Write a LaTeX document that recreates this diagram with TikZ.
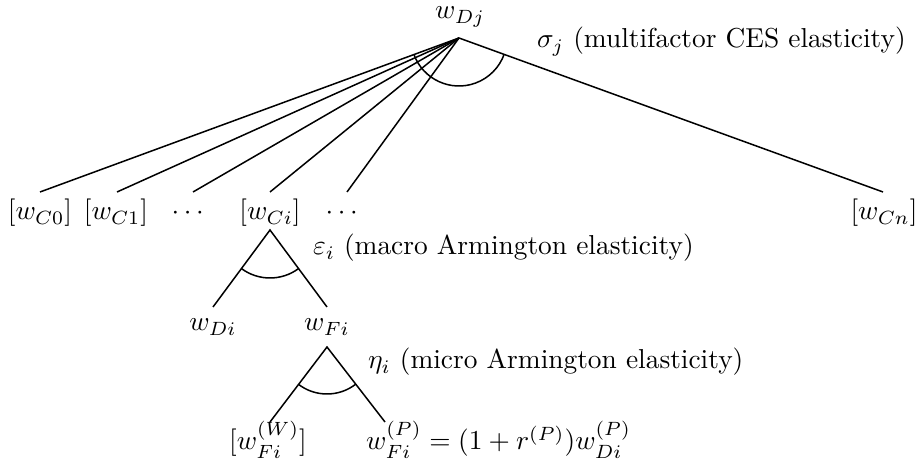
\documentclass[tikz,border=0pt]{standalone}
\usepackage{amsmath}
\begin{document}
\begin{tikzpicture}[x=0.365pt,y=-0.365pt,
  lbl/.style={inner sep=0pt,outer sep=0pt},
  edge/.style={line width=0.55pt},
  angarc/.style={line width=0.55pt}]
\useasboundingbox (0,0) rectangle (917,465);
% top level
\node[lbl,anchor=base] (wDj) at (460,19) {$w_{Dj}$};
\coordinate (apex) at (459,38);
\node[lbl,anchor=base west] (sig) at (537,48) {$\sigma_j$ (multifactor CES elasticity)};
\foreach \n/\x/\t in {C0/40/{$[w_{C0}]$},C1/116/{$[w_{C1}]$},d1/190/{$\cdots$},Ci/270/{$[w_{Ci}]$},d2/344/{$\cdots$},Cn/884/{$[w_{Cn}]$}}{
  \node[lbl,anchor=base] (\n) at (\x,220) {\t};
}
\foreach \n/\x in {C0/40,C1/117,d1/193,Ci/270,d2/347,Cn/883}{
  \coordinate (e\n) at (\x,192);
  \draw[edge] (apex) -- (e\n);
}
\draw[angarc] ([shift={(159.82:48)}]apex) arc[start angle=159.82,end angle=19.96,radius=48];
% macro Armington
\coordinate (apexCi) at (270,230);
\coordinate (eDi) at (213,307);
\coordinate (eFi) at (327,307);
\draw[edge] (eDi) -- (apexCi) -- (eFi);
\draw[angarc] ([shift={(126.5:48)}]apexCi) arc[start angle=126.5,end angle=53.5,radius=48];
\node[lbl,anchor=base west] (eps) at (313,255) {$\varepsilon_i$ (macro Armington elasticity)};
\node[lbl,anchor=base] (wDi) at (213,331) {$w_{Di}$};
\node[lbl,anchor=base] (wFi) at (327,331) {$w_{Fi}$};
% micro Armington
\coordinate (apexFi) at (327,347);
\coordinate (eW) at (270,422);
\coordinate (eP) at (385,422);
\draw[edge] (eW) -- (apexFi) -- (eP);
\draw[angarc] ([shift={(127.7:47)}]apexFi) arc[start angle=127.7,end angle=52.3,radius=47];
\node[lbl,anchor=base west] (eta) at (368,369) {$\eta_i$ (micro Armington elasticity)};
\node[lbl,anchor=base] (wW) at (268,450) {$[w^{(W)}_{Fi}]$};
\node[lbl,anchor=base west] (wP) at (366,450) {$w^{(P)}_{Fi} = (1+r^{(P)})w^{(P)}_{Di}$};
\end{tikzpicture}
\end{document}
